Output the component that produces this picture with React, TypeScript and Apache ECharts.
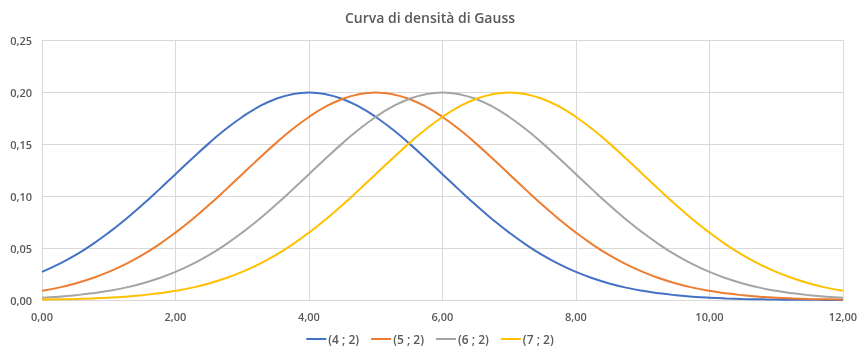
import React, { useEffect, useRef } from "react";
import * as echarts from "echarts";

const xValues = [
  0, 0.25, 0.5, 0.75, 1, 1.25, 1.5, 1.75, 2, 2.25, 2.5, 2.75, 3, 3.25, 3.5, 3.75,
  4, 4.25, 4.5, 4.75, 5, 5.25, 5.5, 5.75, 6, 6.25, 6.5, 6.75, 7, 7.25, 7.5, 7.75,
  8, 8.25, 8.5, 8.75, 9, 9.25, 9.5, 9.75, 10, 10.25, 10.5, 10.75, 11, 11.25, 11.5, 11.75, 12,
];

const seriesNames = ["(4 ; 2)", "(5 ; 2)", "(6 ; 2)", "(7 ; 2)"];

const s4 = [
  0.0270, 0.0344, 0.0431, 0.0533, 0.0648, 0.0775, 0.0913, 0.1059, 0.1210, 0.1360, 0.1506, 0.1641, 0.1760, 0.1859, 0.1933, 0.1979,
  0.1995, 0.1979, 0.1933, 0.1859, 0.1760, 0.1641, 0.1506, 0.1360, 0.1210, 0.1059, 0.0913, 0.0775, 0.0648, 0.0533, 0.0431, 0.0344,
  0.0270, 0.0209, 0.0159, 0.0119, 0.0088, 0.0064, 0.0046, 0.0032, 0.0022, 0.0015, 0.0010, 0.0007, 0.0004, 0.0003, 0.0002, 0.0001, 0.0001,
];
const s5 = [
  0.0088, 0.0119, 0.0159, 0.0209, 0.0270, 0.0344, 0.0431, 0.0533, 0.0648, 0.0775, 0.0913, 0.1059, 0.1210, 0.1360, 0.1506, 0.1641,
  0.1760, 0.1859, 0.1933, 0.1979, 0.1995, 0.1979, 0.1933, 0.1859, 0.1760, 0.1641, 0.1506, 0.1360, 0.1210, 0.1059, 0.0913, 0.0775,
  0.0648, 0.0533, 0.0431, 0.0344, 0.0270, 0.0209, 0.0159, 0.0119, 0.0088, 0.0064, 0.0046, 0.0032, 0.0022, 0.0015, 0.0010, 0.0007, 0.0004,
];
const s6 = [
  0.0022, 0.0032, 0.0046, 0.0064, 0.0088, 0.0119, 0.0159, 0.0209, 0.0270, 0.0344, 0.0431, 0.0533, 0.0648, 0.0775, 0.0913, 0.1059,
  0.1210, 0.1360, 0.1506, 0.1641, 0.1760, 0.1859, 0.1933, 0.1979, 0.1995, 0.1979, 0.1933, 0.1859, 0.1760, 0.1641, 0.1506, 0.1360,
  0.1210, 0.1059, 0.0913, 0.0775, 0.0648, 0.0533, 0.0431, 0.0344, 0.0270, 0.0209, 0.0159, 0.0119, 0.0088, 0.0064, 0.0046, 0.0032, 0.0022,
];
const s7 = [
  0.0004, 0.0007, 0.0010, 0.0015, 0.0022, 0.0032, 0.0046, 0.0064, 0.0088, 0.0119, 0.0159, 0.0209, 0.0270, 0.0344, 0.0431, 0.0533,
  0.0648, 0.0775, 0.0913, 0.1059, 0.1210, 0.1360, 0.1506, 0.1641, 0.1760, 0.1859, 0.1933, 0.1979, 0.1995, 0.1979, 0.1933, 0.1859,
  0.1760, 0.1641, 0.1506, 0.1360, 0.1210, 0.1059, 0.0913, 0.0775, 0.0648, 0.0533, 0.0431, 0.0344, 0.0270, 0.0209, 0.0159, 0.0119, 0.0088,
];

const allSeries = [s4, s5, s6, s7];
const colors = ["#4472C4", "#ED7D31", "#A5A5A5", "#FFC000"];

const fmt = (v: number) => v.toFixed(2).replace(".", ",");

export default function App() {
  const ref = useRef<HTMLDivElement>(null);
  useEffect(() => {
    if (!ref.current) return;
    const chart = echarts.init(ref.current, null, { renderer: "svg" });
    const textColor = "#595959";
    const font = "'Open Sans', 'Liberation Sans', sans-serif";
    chart.setOption({
      animation: false,
      color: colors,
      title: {
        text: "Curva di densità di Gauss",
        left: "center",
        top: 5,
        textStyle: { color: textColor, fontSize: 14, fontWeight: 600, fontFamily: font },
      },
      grid: { left: 42, right: 17, top: 40, bottom: 47 },
      legend: {
        bottom: 1,
        left: "center",
        itemWidth: 20,
        itemHeight: 14,
        itemGap: 12,
        padding: 0,
        icon: "path://M0,6 L20,6 L20,8 L0,8 Z",
        textStyle: { color: textColor, fontSize: 12, fontWeight: 600, fontFamily: font, lineHeight: 14, padding: [0, 0, 0, -3] },
        data: seriesNames,
      },
      xAxis: {
        type: "value",
        min: 0,
        max: 12,
        interval: 2,
        axisLine: { show: true, lineStyle: { color: "#D9D9D9" } },
        axisTick: { show: false },
        splitLine: { show: true, lineStyle: { color: "#D9D9D9" } },
        axisLabel: { color: textColor, fontSize: 11, fontWeight: 600, fontFamily: font, margin: 11, formatter: fmt },
      },
      yAxis: {
        type: "value",
        min: 0,
        max: 0.25,
        interval: 0.05,
        axisLine: { show: false },
        axisTick: { show: false },
        splitLine: { show: true, lineStyle: { color: "#D9D9D9" } },
        axisLabel: { color: textColor, fontSize: 11, fontWeight: 600, fontFamily: font, margin: 10, formatter: fmt },
      },
      series: allSeries.map((s, i) => ({
        name: seriesNames[i],
        type: "line",
        smooth: true,
        symbol: "none",
        lineStyle: { width: 2, color: colors[i] },
        itemStyle: { color: colors[i] },
        data: xValues.map((x, j) => [x, s[j]]),
      })),
    });
    return () => chart.dispose();
  }, []);
  return <div ref={ref} style={{ position: "fixed", left: 0, top: 0, width: 860, height: 347 }} />;
}
